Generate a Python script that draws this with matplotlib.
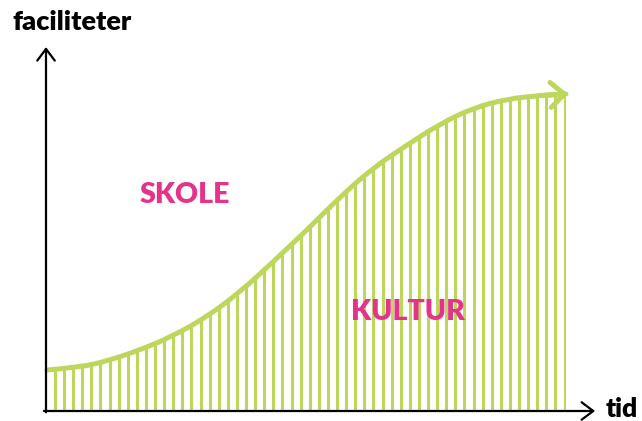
import numpy as np
import matplotlib
matplotlib.use("Agg")
import matplotlib.pyplot as plt
from matplotlib.path import Path
from matplotlib.patches import PathPatch

# curve: time (0-100) vs facilities (0-100)
tid = [0.19, 6.54, 11.73, 18.08, 24.42, 30.96, 37.31, 43.65, 50.19, 56.54,
       62.88, 69.42, 75.77, 82.12, 88.65, 95.0, 100.0]
faciliteter = [12.93, 13.79, 15.77, 19.24, 23.66, 29.72, 37.54, 47.0, 57.1,
               67.5, 76.66, 83.91, 90.54, 95.58, 98.42, 99.53, 100.0]
labels = {"SKOLE": (26.7, 68.1), "KULTUR": (69.6, 31.2)}
hatch_start, hatch_step, hatch_end = 1.73, 1.75, 100.0

GREEN = "#bcd75c"
PINK = "#e5338b"
FONT = ["Lato", "DejaVu Sans"]

fig = plt.figure(figsize=(6.42, 4.21), dpi=100)
ax = fig.add_axes([0, 0, 1, 1])
ax.set_xlim(-8.846, 114.62)
ax.set_ylim(-3.155, 129.65)
ax.axis("off")

# smooth path through the data (quadratic Bezier, data points as control points)
pts = np.column_stack([tid, faciliteter])
verts = [pts[0]]
codes = [Path.MOVETO]
for i in range(1, len(pts) - 1):
    verts += [pts[i], (pts[i] + pts[i + 1]) / 2]
    codes += [Path.CURVE3, Path.CURVE3]
verts.append(pts[-1])
codes.append(Path.LINETO)
curve = Path(verts, codes)

area = Path(verts + [(tid[-1], 0), (tid[0], 0), (tid[0], 0)],
            codes + [Path.LINETO, Path.LINETO, Path.CLOSEPOLY])

xs = np.arange(hatch_start, hatch_end, hatch_step)
vl = ax.vlines(xs, 0, 110, colors=GREEN, lw=2.2)
vl.set_clip_path(area, ax.transData)

ax.add_patch(PathPatch(curve, facecolor="none", edgecolor=GREEN, lw=3.6,
                       capstyle="round", joinstyle="round"))
ax.annotate("", xy=(tid[-1] + 0.4, faciliteter[-1]), xytext=(tid[-2], faciliteter[-2]),
            arrowprops=dict(arrowstyle="->,head_length=0.55,head_width=0.5", color=GREEN,
                            lw=3.6, mutation_scale=18, shrinkA=0, shrinkB=0))

# axes with arrows
ax.annotate("", xy=(105.6, 0), xytext=(-0.4, 0),
            arrowprops=dict(arrowstyle="->,head_length=0.6,head_width=0.45", color="black",
                            lw=1.6, mutation_scale=14, shrinkA=0, shrinkB=0))
ax.annotate("", xy=(0, 114.8), xytext=(0, -0.4),
            arrowprops=dict(arrowstyle="->,head_length=0.6,head_width=0.45", color="black",
                            lw=1.6, mutation_scale=14, shrinkA=0, shrinkB=0))

ax.text(-6.35, 122.7, "faciliteter", family=FONT, weight="heavy", fontsize=19.5,
        ha="left", va="center", color="black")
ax.text(107.7, 0.5, "tid", family=FONT, weight="heavy", fontsize=19,
        ha="left", va="center", color="black")
for name, (x, y) in labels.items():
    ax.text(x, y, name, family=FONT, weight="heavy", fontsize=20.5, ha="center",
            va="center", color=PINK)

fig.savefig("out.png", dpi=100)
